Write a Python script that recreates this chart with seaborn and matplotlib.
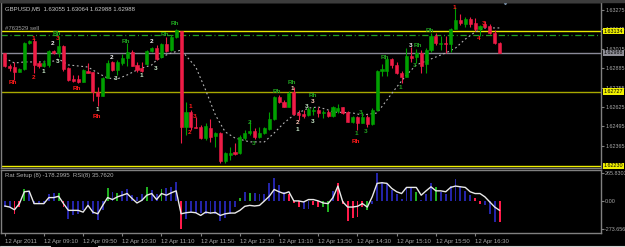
import numpy as np
import matplotlib
matplotlib.use("Agg")
import matplotlib.pyplot as plt
import matplotlib.transforms as mtrans
from matplotlib.patches import Rectangle
from matplotlib.lines import Line2D
import seaborn as sns

# ---------------- data ----------------
opens = [1.62985,1.62902,1.62895,1.62862,1.62880,1.63052,1.63065,1.62918,1.62902,1.62907,
         1.63002,1.62985,1.63034,1.62884,1.62815,1.62811,1.62795,1.62868,1.62862,1.62726,
         1.62701,1.62821,1.62929,1.62873,1.62922,1.62951,1.62996,1.62907,1.62884,1.62911,
         1.63000,1.63022,1.62958,1.63045,1.63007,1.63092,1.63136,1.62493,1.62594,1.62493,
         1.62493,1.62415,1.62486,1.62431,1.62449,1.62265,1.62304,1.62326,1.62315,1.62415,
         1.62449,1.62464,1.62422,1.62449,1.62476,1.62543,1.62690,1.62661,1.62627,1.62728,
         1.62583,1.62575,1.62572,1.62598,1.62605,1.62583,1.62590,1.62567,1.62600,1.62623,
         1.62594,1.62527,1.62556,1.62520,1.62560,1.62511,1.62605,1.62868,1.62868,1.62945,
         1.62907,1.62855,1.62828,1.62967,1.62958,1.62985,1.62911,1.63007,1.63103,1.63047,
         1.63056,1.63047,1.63148,1.63208,1.63181,1.63215,1.63186,1.63148,1.63181,1.63170,
         1.63119,1.63055]
highs = [1.62990,1.62911,1.62929,1.62886,1.63061,1.63071,1.63085,1.62933,1.62940,1.63007,
         1.63007,1.63101,1.63041,1.62895,1.62838,1.62840,1.62880,1.62918,1.62862,1.62757,
         1.62826,1.62940,1.62933,1.62940,1.62980,1.63052,1.63007,1.62929,1.62929,1.63007,
         1.63029,1.63041,1.63054,1.63096,1.63108,1.63148,1.63136,1.62661,1.62605,1.62560,
         1.62505,1.62520,1.62543,1.62460,1.62460,1.62326,1.62359,1.62382,1.62438,1.62471,
         1.62538,1.62482,1.62493,1.62493,1.62594,1.62699,1.62706,1.62672,1.62734,1.62757,
         1.62605,1.62605,1.62625,1.62627,1.62623,1.62605,1.62605,1.62632,1.62643,1.62627,
         1.62598,1.62565,1.62565,1.62594,1.62572,1.62616,1.62873,1.62913,1.62962,1.62951,
         1.62929,1.62868,1.63018,1.63029,1.63012,1.63007,1.63018,1.63119,1.63123,1.63101,
         1.63101,1.63152,1.63297,1.63248,1.63226,1.63226,1.63219,1.63175,1.63201,1.63181,
         1.63141,1.63064]
lows = [1.62896,1.62868,1.62806,1.62860,1.62876,1.63047,1.62855,1.62888,1.62895,1.62895,
        1.62980,1.62962,1.62866,1.62801,1.62793,1.62788,1.62793,1.62851,1.62667,1.62632,
        1.62699,1.62817,1.62866,1.62840,1.62907,1.62900,1.62900,1.62862,1.62862,1.62907,
        1.62996,1.62940,1.62953,1.62996,1.63000,1.63087,1.62384,1.62438,1.62471,1.62482,
        1.62411,1.62404,1.62393,1.62359,1.62248,1.62248,1.62270,1.62304,1.62310,1.62404,
        1.62438,1.62409,1.62415,1.62444,1.62471,1.62538,1.62650,1.62622,1.62623,1.62572,
        1.62538,1.62549,1.62565,1.62572,1.62560,1.62549,1.62556,1.62561,1.62587,1.62578,
        1.62523,1.62520,1.62471,1.62516,1.62489,1.62505,1.62600,1.62833,1.62833,1.62884,
        1.62846,1.62788,1.62824,1.62929,1.62922,1.62855,1.62851,1.62996,1.63041,1.63007,
        1.62989,1.62996,1.63146,1.63175,1.63163,1.63159,1.63136,1.63101,1.63159,1.63114,
        1.63047,1.62988]
closes = [1.62902,1.62884,1.62862,1.62880,1.63056,1.63065,1.62909,1.62902,1.62918,1.63000,
          1.62985,1.63034,1.62880,1.62806,1.62799,1.62795,1.62873,1.62855,1.62726,1.62701,
          1.62821,1.62922,1.62873,1.62927,1.62951,1.62996,1.62902,1.62873,1.62868,1.63000,
          1.63018,1.62945,1.63045,1.63000,1.63094,1.63141,1.62493,1.62594,1.62493,1.62486,
          1.62415,1.62498,1.62426,1.62453,1.62265,1.62315,1.62319,1.62310,1.62422,1.62449,
          1.62464,1.62422,1.62453,1.62486,1.62543,1.62690,1.62661,1.62627,1.62717,1.62578,
          1.62572,1.62568,1.62610,1.62605,1.62583,1.62594,1.62567,1.62623,1.62616,1.62587,
          1.62527,1.62556,1.62520,1.62560,1.62511,1.62605,1.62868,1.62880,1.62947,1.62907,
          1.62851,1.62828,1.62967,1.62951,1.62985,1.62902,1.63007,1.63103,1.63052,1.63056,
          1.63047,1.63148,1.63208,1.63186,1.63215,1.63181,1.63146,1.63168,1.63163,1.63119,
          1.63052,1.62988]

ma_idx = [0,2,4,8,10,11,13,15,17,19,21,23,25,27,28,30,31,33,34,36,39,41,43,45,47,50,53,55,
          57,59,62,64,66,67,71,73,76,78,80,82,84,87,90,92,94,96,98,101]
ma_val = [1.62953,1.62920,1.62927,1.62927,1.62933,1.62947,1.62907,1.62900,1.62893,1.62853,
          1.62819,1.62813,1.62840,1.62873,1.62886,1.62907,1.62940,1.62974,1.62987,1.63007,
          1.62893,1.62739,1.62571,1.62458,1.62417,1.62391,1.62391,1.62451,1.62518,1.62571,
          1.62618,1.62625,1.62605,1.62592,1.62585,1.62571,1.62585,1.62672,1.62759,1.62840,
          1.62907,1.62947,1.62987,1.63020,1.63080,1.63128,1.63155,1.63155]

hist_val = [-62,-62,-127,-62,107,85,-29,-29,-20,68,75,78,-62,-175,-143,-127,-94,-62,-127,-185,
            -94,117,85,78,94,107,52,36,68,127,101,68,107,117,133,179,-273.66,-175,-117,-117,
            -117,-127,-127,-127,-192,-166,-127,-62,29,85,75,78,62,68,172,215,150,85,68,-23,
            -62,-85,-78,-40,-62,-62,-111,94,166,-29,-198,-166,-159,-62,-88,-29,265.83,182,159,101,
            68,20,127,133,85,10,68,166,127,85,59,140,205,140,94,52,29,-29,-46,-133,
            -208,-208]
hist_col = list("bbrrgbbbbbbgrbbbbbbbbgbgbbbbbgbbgbbbrbbbbbbbbbbbgbgbbbbbbbrrrbbrrggbrrrrrrgbbbbbbbbbgbbbgbbbbbbbrrb")

rsi_val = [-52,-62,-88,-29,85,91,-29,-29,-29,29,29,42,-29,-94,-94,-94,-111,-46,-111,-127,
           -46,29,10,36,52,68,20,-23,3,52,68,10,68,52,75,94,-127,-117,-111,-117,
           -143,-111,-120,-114,-143,-127,-120,-120,-94,-55,-46,-52,-46,-3,42,107,85,68,85,-3,
           -3,-13,10,10,-3,-23,-29,29,140,-13,-62,-62,-55,-29,-62,36,166,172,166,117,
           85,68,127,127,127,52,94,133,94,94,85,127,140,133,127,85,68,68,36,-13,
           -62,-94]

hlines = [1.63134, 1.63108, 1.62988, 1.62727, 1.62230]
price_ticks = [1.63275, 1.63145, 1.63015, 1.62885, 1.62755, 1.62625, 1.62495, 1.62365]
ind_ticks = [265.8303, 0.0, -273.656]
ind_labels = ["265.8303", "0.00", "-273.656"]
time_idx = [0, 8, 16, 24, 32, 40, 48, 56, 64, 72, 80, 88, 96]
time_labels = ["12 Apr 2011", "12 Apr 09:10", "12 Apr 09:50", "12 Apr 10:30", "12 Apr 11:10",
               "12 Apr 11:50", "12 Apr 12:30", "12 Apr 13:10", "12 Apr 13:50", "12 Apr 14:30",
               "12 Apr 15:10", "12 Apr 15:50", "12 Apr 16:30"]

sig_text = ["Rh","1","2","1","2","3","Rh","3","Rh","1","Rh","2","3","Rh","1","2","3","Rh","Rh",
            "1","3","2","2","3","Rh","Rh","1","2","1","Rh","3","3","3","3","1","Rh","3","Rh","1",
            "3","Rh","3","Rh","1","3","4"]
sig_idx = [1.7,5.8,5.8,7.8,9.7,10.7,10.7,10.7,14.8,18.9,18.9,21.7,22.7,24.8,27.8,29.9,30.9,32.7,34.8,
           37.8,38.8,37.8,49.9,50.9,55.6,58.7,58.7,59.7,59.7,62.8,62.8,62.8,61.7,72.7,71.7,71.7,73.7,77.6,80.7,
           82.9,84.3,83.7,86.8,91.7,97.8,96.8]
sig_price = [1.62786,1.63081,1.62826,1.62860,1.63054,1.63081,1.63121,1.62933,1.62752,1.62605,1.62558,
             1.62960,1.62813,1.63061,1.62833,1.63061,1.62886,1.63108,1.63188,1.62625,1.62558,1.62451,
             1.62518,1.62377,1.62726,1.62786,1.62746,1.62518,1.62471,1.62699,1.62659,1.62531,1.62625,
             1.62585,1.62444,1.62397,1.62464,1.62960,1.62759,1.63034,1.63034,1.62900,1.63141,1.63295,
             1.63188,1.63081]
sig_kind = ["r","r","r","l","w","r","g","l","r","l","r","w","l","g","l","w","l","g","g",
            "r","r","r","g","g","g","g","p","p","l","g","p","l","l","g","g","r","g","g","g",
            "w","g","g","g","r","r","r"]

# ---------------- style ----------------
sns.set_theme(style="dark", rc={"axes.facecolor": "black", "figure.facecolor": "black"})
plt.rcParams["font.family"] = ["Liberation Sans", "DejaVu Sans"]

W, H = 625, 247
GREEN = "#00a000"
RED = "#ee1c46"
GRAY = "#a8a8a8"
FS = 4.3
FSR = 3.9

def rect(x0, y0, x1, y1):
    return [x0 / W, 1 - y1 / H, (x1 - x0) / W, (y1 - y0) / H]

fig = plt.figure(figsize=(W / 100, H / 100), dpi=100, facecolor="black")
ax = fig.add_axes(rect(1, 2, 601, 168))
ax2 = fig.add_axes(rect(1, 170, 601, 233))

n = len(opens)
x = np.arange(n)
o = np.array(opens); c = np.array(closes); hi = np.array(highs); lo = np.array(lows)
up = c > o
ccol = np.where(up, GREEN, RED)

x0lim = -0.55 - 1 / 4.9
xlim = (x0lim, x0lim + 600 / 4.9)
for a in (ax, ax2):
    a.set_facecolor("black")
    a.set_xlim(*xlim)
    for s in a.spines.values():
        s.set_color("#808080")
        s.set_linewidth(1.0)
    a.grid(False)
ax.set_ylim(1.62216, 1.63329)
ax2.set_ylim(-312, 294.7)

# horizontal lines
ax.axhline(hlines[0], color="#e8e800", lw=1.0, zorder=1)
ax.axhline(hlines[1], color="#20a020", lw=0.9, ls=(0, (5, 2.2, 0.8, 2.2)), zorder=1)
ax.axhline(hlines[2], color="#8a8a98", lw=1.0, zorder=1)
ax.axhline(hlines[3], color="#a8a800", lw=1.0, zorder=1)
ax.axhline(hlines[4], color="#f0f000", lw=1.0, zorder=1)

# moving average
sns.lineplot(x=ma_idx, y=ma_val, ax=ax, color="#b4b4b4", lw=0.8,
             linestyle=(0, (1.6, 2.4)), estimator=None, zorder=2)

# candles
ax.vlines(x, lo, hi, colors=ccol, lw=0.8, zorder=3)
ax.bar(x, np.abs(c - o), bottom=np.minimum(o, c), width=0.62, color=ccol,
       edgecolor=ccol, linewidth=0.4, zorder=4)

# signal labels
kcol = {"r": "#ff1a1a", "g": "#20a020", "l": "#c8e8c8", "w": "#f0f0f0", "p": "#ffc8b8"}
for t, xi, yp, k in zip(sig_text, sig_idx, sig_price, sig_kind):
    ax.text(xi, yp, t, color=kcol[k], fontsize=4.6, fontweight="bold",
            ha="center", va="center", zorder=5)

# texts
ax.text(4 / 600, 1 - 4 / 166, "GBPUSD,M5  1.63055 1.63064 1.62988 1.62988",
        transform=ax.transAxes, color="#c8c8c8", fontsize=FS, va="top", ha="left")
ax.text(4 / 600, hlines[0], "#763529 sell", color="#a0a0a0", fontsize=FS, va="bottom",
        ha="left", transform=mtrans.blended_transform_factory(ax.transAxes, ax.transData))

# price axis
ax.yaxis.tick_right()
ax.set_yticks(price_ticks)
ax.set_yticklabels([f"{p:.5f}" for p in price_ticks])
ax.tick_params(axis="y", colors="#808080", labelcolor=GRAY, labelsize=FSR, length=2.0,
               width=0.8, pad=1.0, right=True, left=False)
ax.tick_params(axis="x", bottom=False, labelbottom=False)

blend = mtrans.blended_transform_factory(fig.transFigure, ax.transData)
box_specs = [(hlines[0], "#f0f000"), (hlines[2], "#909098"), (hlines[3], "#f0f000"), (hlines[4], "#f0f000")]
for val, fc in box_specs:
    ax.text(604 / W, val, f"{val:.5f}", transform=blend, fontsize=FSR, color="black",
            va="center", ha="left", clip_on=False, zorder=10,
            bbox=dict(boxstyle="square,pad=0.15", fc=fc, ec="none"))

# chart-shift marker
ax.plot([102.1], [1.63326], marker="v", color="#7890a8", ms=3.2, clip_on=False, zorder=6)

# indicator
bc = {"b": "#2424a8", "g": "#20b020", "r": "#ff1a4a"}
ax2.bar(x, hist_val, width=0.4, color=[bc[k] for k in hist_col], linewidth=0, zorder=2)
sns.lineplot(x=x, y=rsi_val, ax=ax2, color="#e8e8e8", lw=1.0, estimator=None, zorder=3)
ax2.text(4 / 600, 1 - 3 / 63, "Rat Setup (8) -178.2995  RSI(8) 35.7620",
         transform=ax2.transAxes, color="#b0b0b0", fontsize=FS, va="top", ha="left")
ax2.yaxis.tick_right()
ax2.set_yticks(ind_ticks)
ax2.set_yticklabels(ind_labels)
ax2.tick_params(axis="y", colors="#808080", labelcolor=GRAY, labelsize=FSR, length=2.0,
                width=0.8, pad=1.0, right=True, left=False)
ax2.set_xticks(time_idx)
ax2.set_xticklabels(time_labels, ha="left")
ax2.tick_params(axis="x", colors="#808080", labelcolor=GRAY, labelsize=FS, length=2.5,
                width=0.8, pad=1.5, bottom=True)
ax.set_xlabel(""); ax.set_ylabel(""); ax2.set_xlabel(""); ax2.set_ylabel("")

# window chrome
fig.patches.append(Rectangle((0, 1 - 2 / H), 1, 2 / H, transform=fig.transFigure,
                             color="#3c3c3c", zorder=0))
for seg in [((0, 50), (245.5, 245.5)), ((50, 50), (245.5, 247)), ((98, 625), (245.5, 245.5)),
            ((98, 98), (245.5, 247))]:
    fig.add_artist(Line2D([v / W for v in seg[0]], [1 - v / H for v in seg[1]],
                          color="#d0d0d0", lw=0.8, transform=fig.transFigure))

fig.savefig("out.png", dpi=100, facecolor="black")
